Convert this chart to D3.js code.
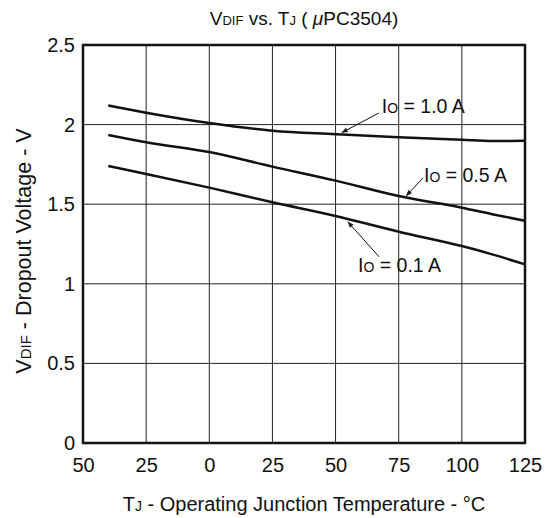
<!DOCTYPE html>
<html>
<head>
<meta charset="utf-8">
<script src="https://cdn.jsdelivr.net/npm/d3@7"></script>
<style>
  body { margin: 0; background: #fff; }
  svg text { font-family: "Liberation Sans", Arial, sans-serif; fill: #111; }
</style>
</head>
<body>
<svg id="chart" width="547" height="518"></svg>
<script>
  // readings from the datasheet curve (Tj in degC, Vdif in V)
  const temps = [-40, -25, 0, 25, 50, 75, 100, 112, 125];
  const io10 = [2.12, 2.075, 2.01, 1.962, 1.94, 1.92, 1.905, 1.897, 1.898];
  const io05 = [1.935, 1.889, 1.828, 1.736, 1.648, 1.551, 1.478, 1.437, 1.396];
  const io01 = [1.74, 1.69, 1.604, 1.512, 1.426, 1.327, 1.237, 1.185, 1.122];
  const xTicks = [-50, -25, 0, 25, 50, 75, 100, 125];
  const yTicks = [0, 0.5, 1, 1.5, 2, 2.5];

  const labels = [
    { name: "1.0 A", tx: 68.3, ty: 2.072, ax: 67.2, ay: 2.073, bx: 52.4, by: 1.949 },
    { name: "0.5 A", tx: 85, ty: 1.638, ax: 84.6, ay: 1.665, bx: 77.9, by: 1.551 },
    { name: "0.1 A", tx: 58.9, ty: 1.073, ax: 67.2, ay: 1.17, bx: 54.8, by: 1.39 },
  ];

  const svg = d3.select("#chart");
  const margin = { top: 45, right: 22, bottom: 75, left: 83 };
  const width = 547 - margin.left - margin.right;
  const height = 518 - margin.top - margin.bottom;
  const g = svg.append("g").attr("transform", `translate(${margin.left},${margin.top})`);

  const x = d3.scaleLinear().domain([-50, 125]).range([0, width]);
  const y = d3.scaleLinear().domain([0, 2.5]).range([height, 0]);

  svg.append("defs").append("marker")
    .attr("id", "arrow").attr("viewBox", "0 0 10 10").attr("refX", 10).attr("refY", 5)
    .attr("markerWidth", 7).attr("markerHeight", 6).attr("orient", "auto")
    .append("path").attr("d", "M0,1 L10,5 L0,9 Z").attr("fill", "#111");

  // grid
  g.append("g").selectAll("line").data(xTicks.slice(1, -1)).join("line")
    .attr("x1", (d) => x(d)).attr("x2", (d) => x(d)).attr("y1", 0).attr("y2", height)
    .attr("stroke", "#222").attr("stroke-width", 1);
  g.append("g").selectAll("line").data(yTicks.slice(1, -1)).join("line")
    .attr("y1", (d) => y(d)).attr("y2", (d) => y(d)).attr("x1", 0).attr("x2", width)
    .attr("stroke", "#222").attr("stroke-width", 1);

  // axes (labels only, border drawn separately)
  g.append("g").attr("transform", `translate(0,${height})`)
    .call(d3.axisBottom(x).tickValues(xTicks).tickSize(0).tickPadding(15).tickFormat((d) => String(Math.abs(d))))
    .call((axis) => axis.select(".domain").remove())
    .call((axis) => axis.selectAll("text").style("font-size", "20px").attr("fill", "#111").attr("font-family", null));
  g.append("g")
    .call(d3.axisLeft(y).tickValues(yTicks).tickSize(0).tickPadding(8).tickFormat((d) => String(d)))
    .call((axis) => axis.select(".domain").remove())
    .call((axis) => axis.selectAll("text").style("font-size", "20px").attr("fill", "#111").attr("font-family", null));

  g.append("rect").attr("width", width).attr("height", height)
    .attr("fill", "none").attr("stroke", "#111").attr("stroke-width", 2.5);

  // curves
  const line = d3.line().x((d) => x(d[0])).y((d) => y(d[1])).curve(d3.curveMonotoneX);
  [io10, io05, io01].forEach((series) => {
    g.append("path").attr("d", line(temps.map((t, i) => [t, series[i]])))
      .attr("fill", "none").attr("stroke", "#111").attr("stroke-width", 2.5);
  });

  // current labels with leader arrows
  labels.forEach((l) => {
    g.append("line").attr("x1", x(l.ax)).attr("y1", y(l.ay)).attr("x2", x(l.bx)).attr("y2", y(l.by))
      .attr("stroke", "#111").attr("stroke-width", 1).attr("marker-end", "url(#arrow)");
    const t = g.append("text").attr("x", x(l.tx)).attr("y", y(l.ty)).style("font-size", "19.5px");
    t.append("tspan").text("I");
    t.append("tspan").style("font-size", "14px").text("O");
    t.append("tspan").text(" = " + l.name);
  });

  // title
  const title = svg.append("text").attr("x", 304).attr("y", 25).attr("text-anchor", "middle").style("font-size", "19px");
  title.append("tspan").text("V");
  title.append("tspan").style("font-size", "13px").text("DIF");
  title.append("tspan").text(" vs. T");
  title.append("tspan").style("font-size", "13px").text("J");
  title.append("tspan").text(" ( ");
  title.append("tspan").style("font-style", "italic").text("μ");
  title.append("tspan").text("PC3504)");

  const xl = svg.append("text").attr("x", 304).attr("y", 511).attr("text-anchor", "middle").style("font-size", "20px");
  xl.append("tspan").text("T");
  xl.append("tspan").style("font-size", "14px").text("J");
  xl.append("tspan").text(" - Operating Junction Temperature - °C");

  const yl = svg.append("text").attr("transform", "translate(30.5,251) rotate(-90)").attr("text-anchor", "middle").style("font-size", "21.5px");
  yl.append("tspan").text("V");
  yl.append("tspan").style("font-size", "15px").text("DIF");
  yl.append("tspan").text(" - Dropout Voltage - V");
</script>
</body>
</html>
